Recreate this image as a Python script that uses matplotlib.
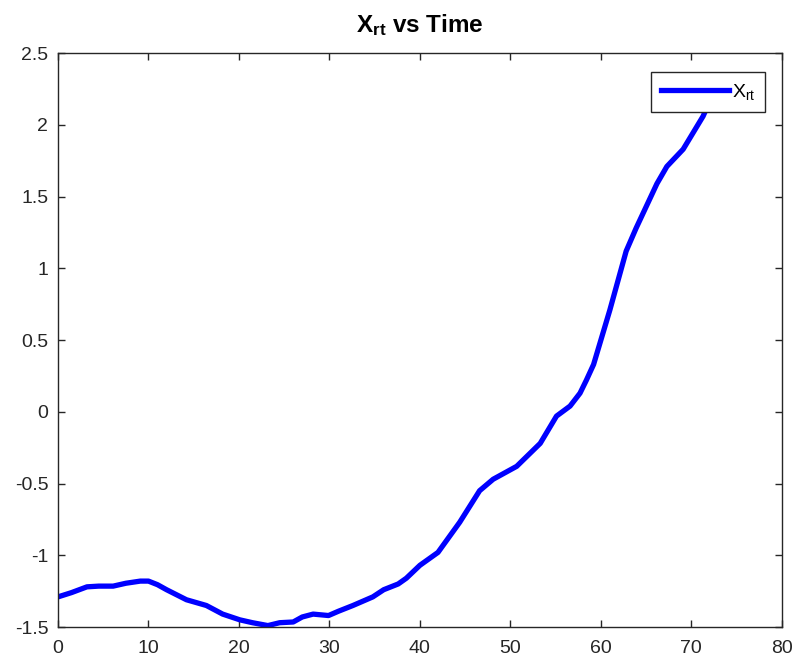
import numpy as np
import matplotlib
matplotlib.use('Agg')
import matplotlib.pyplot as plt

plt.rcParams['font.family'] = ['Liberation Sans', 'DejaVu Sans']
plt.rcParams['mathtext.fontset'] = 'custom'
plt.rcParams['mathtext.rm'] = 'Liberation Sans'
plt.rcParams['mathtext.it'] = 'Liberation Sans'
plt.rcParams['mathtext.bf'] = 'Liberation Sans:bold'

# values
time = [0, 1.5, 3.2, 4.5, 6.1, 7.5, 9.1, 10, 11, 12, 14.2, 16.4, 18.2, 20.1, 21.5, 23.2,
        24.5, 26, 27, 28.2, 29.9, 31, 32.6, 34.8, 36, 37.6, 38.5, 40, 42, 44.4,
        46.6, 48.1, 50.7, 53.3, 55.1, 56.6, 57.7, 58.4, 59.2, 61, 62.8, 63.9,
        66.2, 67.3, 69.1, 71.3, 72.3]
xrt = [-1.29, -1.26, -1.22, -1.215, -1.215, -1.195, -1.18, -1.18, -1.205, -1.24, -1.31, -1.35,
       -1.41, -1.45, -1.47, -1.49, -1.47, -1.465, -1.43, -1.41, -1.42, -1.39, -1.35, -1.29,
       -1.24, -1.2, -1.16, -1.07, -0.98, -0.77, -0.55, -0.47, -0.38, -0.22, -0.03, 0.04,
       0.13, 0.22, 0.33, 0.71, 1.12, 1.28, 1.59, 1.71, 1.83, 2.06, 2.2]

fig = plt.figure(figsize=(8.01, 6.64), dpi=100)
ax = fig.add_axes([0.0724, 0.0557, 0.9036, 0.8643])

ax.plot(time, xrt, color='#0000ff', linewidth=3.8, label=r'X$_{\mathrm{rt}}$')

ax.set_xlim(0, 80)
ax.set_ylim(-1.5, 2.5)
ax.set_xticks(np.arange(0, 81, 10))
ax.set_yticks(np.arange(-1.5, 2.51, 0.5))
ax.set_yticklabels(['-1.5', '-1', '-0.5', '0', '0.5', '1', '1.5', '2', '2.5'])

ax.tick_params(direction='in', top=True, right=True, length=5, width=1,
               colors='#262626', labelsize=14, labelcolor='#262626')
ax.tick_params(axis='x', pad=9)
ax.tick_params(axis='y', pad=7)
for s in ax.spines.values():
    s.set_color('#262626')
    s.set_linewidth(1)

ax.set_title(r'$\mathbf{X_{rt}}$ vs Time', fontsize=17.5, fontweight='bold', pad=15)

leg = ax.legend(loc='upper right', bbox_to_anchor=(0.9765, 0.967), fontsize=14,
                fancybox=False, framealpha=1, edgecolor='#262626', handlelength=3.5,
                handletextpad=0.15, borderpad=0.5, borderaxespad=0)
leg.get_frame().set_linewidth(1)

fig.savefig('out.png', dpi=100)
